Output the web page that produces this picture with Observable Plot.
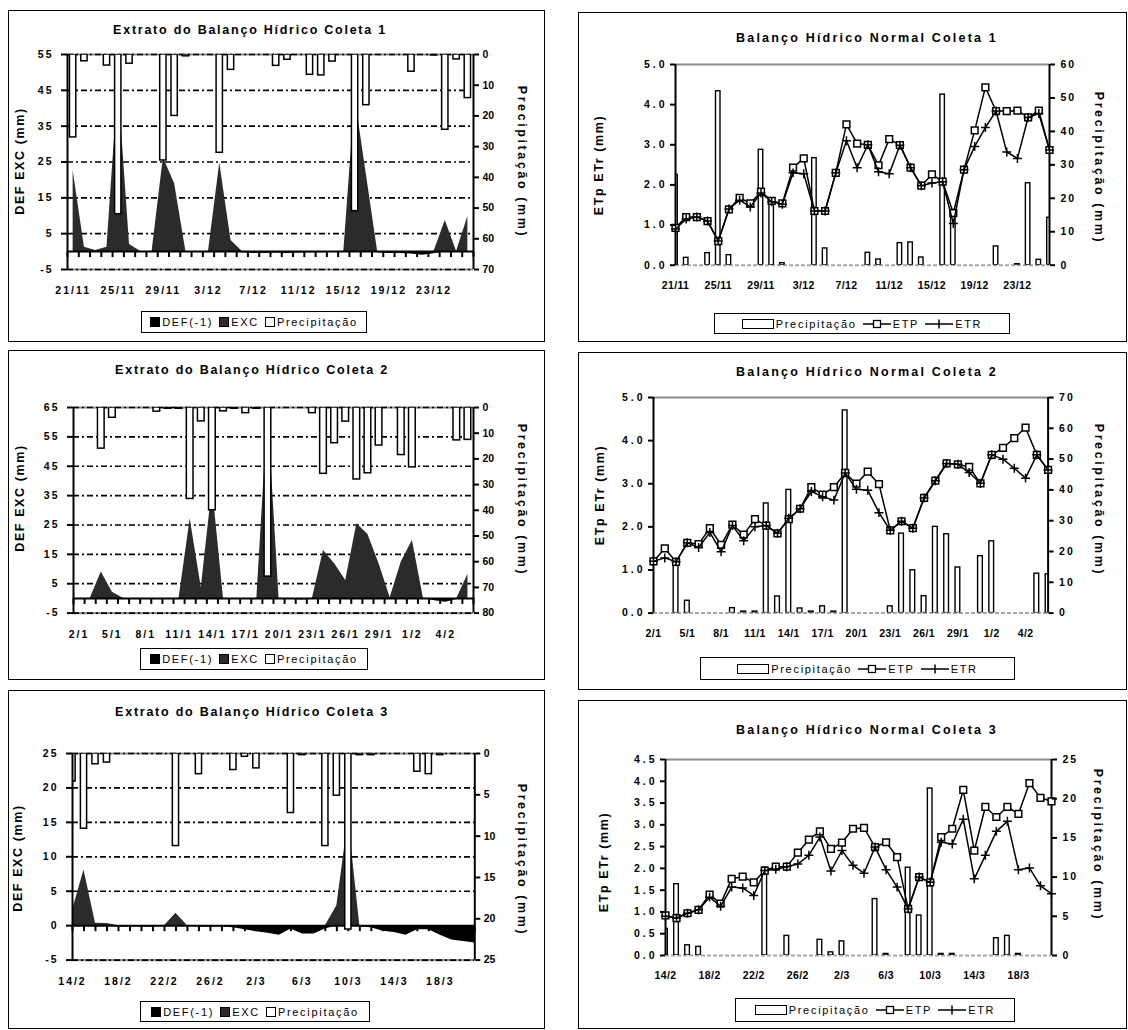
<!DOCTYPE html>
<html>
<head>
<meta charset="utf-8">
<script src="https://cdn.jsdelivr.net/npm/d3@7"></script>
<script src="https://cdn.jsdelivr.net/npm/@observablehq/plot@0.6"></script>
<style>
html,body{margin:0;padding:0;background:#fff;}
#page{position:relative;width:1128px;height:1030px;overflow:hidden;font-family:"Liberation Sans",Arial,sans-serif;color:#000;}
.box{position:absolute;border:1.5px solid #000;box-sizing:border-box;}
.ttl{position:absolute;font-weight:bold;font-size:12.5px;letter-spacing:1.75px;white-space:nowrap;transform:translate(-50%,-50%);}
.ttl.n{letter-spacing:2.2px;}
.yt{position:absolute;font-weight:bold;font-size:12.5px;letter-spacing:1.6px;white-space:nowrap;}
.yt.r{letter-spacing:2.6px;}
.lg{position:absolute;border:1.5px solid #000;box-sizing:border-box;display:flex;align-items:center;justify-content:center;font-size:11px;letter-spacing:1.7px;white-space:nowrap;background:#fff;}
.sw{display:inline-block;width:10px;height:10px;border:1px solid #000;box-sizing:border-box;margin-right:2px;}
.it{display:inline-flex;align-items:center;margin:0 3px;}
</style>
</head>
<body>
<div id="page"></div>
<script>
// ---------------- DATA ----------------
// Coleta 1 (21/11 - 26/12)
const c1Dates = ["21/11","22/11","23/11","24/11","25/11","26/11","27/11","28/11","29/11","30/11",
  "1/12","2/12","3/12","4/12","5/12","6/12","7/12","8/12","9/12","10/12","11/12","12/12","13/12",
  "14/12","15/12","16/12","17/12","18/12","19/12","20/12","21/12","22/12","23/12","24/12","25/12","26/12"];
const c1Precip = [27,2.2,0,3.6,52,3.0,0,0,34.5,20,0.6,0,0,32,5.0,0,0,0,3.7,1.7,0,6.6,6.8,2.3,0,51,16.5,0,0,0,5.6,0,0.3,24.5,1.6,14.2];
const c1Exc = [22.6,1.2,0.3,1.2,47,2.0,0,0,26.2,18.9,0,0,0,24.7,3.1,0,0,0,0,0,0,0,0,0,0,43,21.5,0,0,0,0,0,0,8.7,0,9.8];
const c1Def = [0,0,0,0,0,0,0,0,0,0,0,0,-0.3,0,0,-0.3,-0.5,-0.5,-0.4,-0.5,-0.4,-0.3,-0.3,-0.2,0,0,0,-0.3,-0.5,-0.5,-0.7,-1.0,-0.6,0,0,0];
const c1Etp = [0.93,1.2,1.2,1.1,0.6,1.39,1.68,1.54,1.83,1.6,1.54,2.43,2.66,1.35,1.35,2.3,3.51,3.03,3.0,2.49,3.14,2.99,2.43,1.98,2.26,2.08,1.3,2.38,3.36,4.43,3.84,3.84,3.85,3.68,3.85,2.87];
const c1Etr = [0.9,1.15,1.2,1.1,0.6,1.4,1.62,1.45,1.8,1.58,1.52,2.3,2.28,1.35,1.35,2.3,3.1,2.43,3.0,2.33,2.28,2.99,2.43,1.98,2.05,2.08,1.04,2.38,2.96,3.43,3.84,2.82,2.66,3.68,3.78,2.87];

// Coleta 2 (2/1 - 6/2)
const c2Dates = ["2/1","3/1","4/1","5/1","6/1","7/1","8/1","9/1","10/1","11/1","12/1","13/1","14/1","15/1",
  "16/1","17/1","18/1","19/1","20/1","21/1","22/1","23/1","24/1","25/1","26/1","27/1","28/1","29/1","30/1",
  "31/1","1/2","2/2","3/2","4/2","5/2","6/2"];
const c2Precip = [0,0,16,4,0,0,0,1.6,0.5,0.5,35.6,5.4,40,1.5,0.5,2.2,0.5,65.8,0,0,0,2.2,25.8,13.9,5.5,28,25.6,14.8,0,18.5,23.3,0,0,0,12.8,12.6];
const c2Exc = [0,0,9.0,2.1,0,0,0,0,0,0,27.1,3.6,38,0,0,0,0,64,0,0,0,0,16.3,11.8,6.1,25.4,21.8,11.8,0.2,12.4,19.7,0,0,0,0,8.2];
const c2Def = [0,0,0,0,0,0,0,0,0,0,0,0,0,0,0,0,0,0,0,-0.3,-0.5,-0.3,0,0,0,0,0,0,0,0,0,0,-0.8,-1.3,-0.4,0];
const c2Etp = [1.2,1.5,1.19,1.63,1.6,1.97,1.58,2.05,1.82,2.18,2.03,1.85,2.18,2.42,2.92,2.75,2.92,3.25,3.0,3.28,2.99,1.92,2.13,1.97,2.67,3.07,3.47,3.45,3.39,3.01,3.67,3.83,4.06,4.3,3.67,3.32];
const c2Etr = [1.2,1.28,1.19,1.63,1.52,1.87,1.42,2.03,1.68,2.0,2.03,1.85,2.2,2.42,2.82,2.7,2.62,3.25,2.87,2.85,2.33,1.92,2.13,1.97,2.67,3.07,3.47,3.45,3.26,3.01,3.67,3.57,3.36,3.13,3.67,3.32];

// Coleta 3 (14/2 - 21/3)
const c3Dates = ["14/2","15/2","16/2","17/2","18/2","19/2","20/2","21/2","22/2","23/2","24/2","25/2","26/2",
  "27/2","28/2","1/3","2/3","3/3","4/3","5/3","6/3","7/3","8/3","9/3","10/3","11/3","12/3","13/3","14/3",
  "15/3","16/3","17/3","18/3","19/3","20/3","21/3"];
const c3Precip = [3.4,9.1,1.3,1.1,0,0,0,0,0,11.2,0,2.5,0,0,2.0,0.4,1.8,0,0,7.2,0.2,0,11.2,5.1,21.3,0.2,0.2,0,0,0,2.2,2.5,0.2,0,0,0];
const c3Exc = [2.2,8.1,0.35,0.3,0,0,0,0,0,1.8,0,0,0,0,0,0,0,0,0,0,0,0,0,2.9,15.5,0,0,0,0,0,0,0,0,0,0,0];
const c3Def = [0,0,0,0,-0.2,-0.2,-0.2,-0.2,-0.1,0,-0.1,-0.2,-0.2,-0.2,-0.3,-0.6,-0.9,-1.1,-1.4,-0.5,-1.2,-1.2,-0.5,0,0,-0.2,-0.3,-0.8,-1.0,-1.4,-0.6,-0.6,-1.4,-2.1,-2.3,-2.5];
const c3Etp = [0.92,0.86,0.97,1.05,1.40,1.19,1.76,1.81,1.68,1.95,2.04,2.04,2.36,2.66,2.85,2.45,2.59,2.91,2.93,2.49,2.6,2.26,1.07,1.8,1.68,2.72,2.91,3.80,2.41,3.41,3.18,3.41,3.25,3.96,3.62,3.54];
const c3Etr = [0.9,0.86,0.97,1.05,1.34,1.13,1.57,1.55,1.38,1.95,1.98,2.04,2.1,2.3,2.72,1.94,2.41,2.07,1.89,2.49,1.97,1.57,1.07,1.8,1.68,2.6,2.56,3.13,1.76,2.3,2.85,3.08,1.97,2.01,1.6,1.42];

// axis ticks
const extTicksL1 = [-5,5,15,25,35,45,55];
const extTicksR1 = [0,10,20,30,40,50,60,70];
const extTicksL2 = [-5,5,15,25,35,45,55,65];
const extTicksR2 = [0,10,20,30,40,50,60,70,80];
const extTicksL3 = [-5,0,5,10,15,20,25];
const extTicksR3 = [0,5,10,15,20,25];
const norTicksL12 = [0,1,2,3,4,5];
const norTicksR1 = [0,10,20,30,40,50,60];
const norTicksR2 = [0,10,20,30,40,50,60,70];
const norTicksL3 = [0,0.5,1,1.5,2,2.5,3,3.5,4,4.5];
const norTicksR3 = [0,5,10,15,20,25];

// ---------------- HELPERS ----------------
const page = document.getElementById("page");
function el(tag, cls, css, text) {
  const e = document.createElement(tag);
  if (cls) e.className = cls;
  Object.assign(e.style, css || {});
  if (text != null) e.textContent = text;
  page.appendChild(e);
  return e;
}
function box(x0, y0, x1, y1) {
  el("div", "box", {left: x0 + "px", top: y0 + "px", width: (x1 - x0) + "px", height: (y1 - y0) + "px"});
}
function title(t, cx, cy, cls) { el("div", "ttl" + (cls ? " " + cls : ""), {left: cx + "px", top: cy + "px"}, t); }
function ytitle(t, cx, cy, rot) {
  el("div", "yt" + (rot > 0 ? " r" : ""), {left: cx + "px", top: cy + "px", transform: `translate(-50%,-50%) rotate(${rot}deg)`}, t);
}
function styleSvg(svg, left, top) {
  Object.assign(svg.style, {position: "absolute", left: left + "px", top: top + "px", background: "transparent",
    overflow: "visible", fontFamily: "'Liberation Sans', Arial, sans-serif", fontSize: "10.5px", fontWeight: "bold"});
  page.appendChild(svg);
}
function spacing(svg, label, anchor, ls) {
  svg.querySelectorAll(`g[aria-label="${label}"]`).forEach(g => {
    if (!anchor || g.getAttribute("text-anchor") === anchor) g.style.letterSpacing = ls + "px";
  });
}
function legendExtrato(x0, y0, x1, y1) {
  const L = el("div", "lg", {left: x0 + "px", top: y0 + "px", width: (x1 - x0) + "px", height: (y1 - y0) + "px"});
  L.innerHTML =
    '<span class="it"><span class="sw" style="background:#000"></span>DEF(-1)</span>' +
    '<span class="it"><span class="sw" style="background:#2b2b2b"></span>EXC</span>' +
    '<span class="it"><span class="sw" style="background:#fff"></span>Precipitação</span>';
}
function legendNormal(x0, y0, x1, y1) {
  const L = el("div", "lg", {left: x0 + "px", top: y0 + "px", width: (x1 - x0) + "px", height: (y1 - y0) + "px"});
  L.innerHTML =
    '<span class="it"><span style="display:inline-block;width:32px;height:10px;border:1.2px solid #000;box-sizing:border-box;margin-right:2px"></span>Precipitação</span>' +
    '<span class="it"><svg width="28" height="12" style="margin-right:2px"><line x1="0" y1="6" x2="28" y2="6" stroke="#000" stroke-width="1.5"/><rect x="10.5" y="2.5" width="7" height="7" fill="#fff" stroke="#000" stroke-width="1.3"/></svg>ETP</span>' +
    '<span class="it"><svg width="28" height="12" style="margin-right:2px"><line x1="0" y1="6" x2="28" y2="6" stroke="#000" stroke-width="1.5"/><line x1="14" y1="1.5" x2="14" y2="10.5" stroke="#000" stroke-width="1.5"/></svg>ETR</span>';
}
const plain = d => String(d);

// ---------------- EXTRATO PANEL ----------------
function extrato(cfg) {
  const {pl, pr, pt, pb, dates, precip, exc, def, lDom, lTicks, rMax, rTicks, between, every, hb} = cfg;
  const N = dates.length;
  const [lBot, lTop] = lDom;
  const toL = p => lTop - p * (lTop - lBot) / rMax;
  const fromL = v => (lTop - v) * rMax / (lTop - lBot);
  const xDom = between ? [-0.5, N - 0.5] : [0, N - 1];
  const upp = (lTop - lBot) / (pb - pt);
  const rows = d3.range(N).map(i => ({i, p: precip[i], exc: exc[i], def: def[i]}));
  const dayTicks = between ? d3.range(N + 1).map(i => i - 0.5) : d3.range(N);
  const labelIdx = d3.range(0, N, every);
  const grid = lTicks.filter(v => v !== 0);
  const mL = 60, mR = 50, mT = 12, mB = 40;
  const svg = Plot.plot({
    width: mL + (pr - pl) + mR, height: mT + (pb - pt) + mB,
    marginLeft: mL, marginRight: mR, marginTop: mT, marginBottom: mB,
    x: {domain: xDom, label: null},
    y: {domain: [lBot, lTop], label: null},
    marks: [
      Plot.ruleY([lBot, lTop], {stroke: "#8c8c8c", strokeWidth: 2.2}),
      Plot.ruleY(grid, {stroke: "#000", strokeWidth: 1.7, strokeDasharray: "6,3,2,3"}),
      Plot.area(rows, {x1: "i", y1: 0, y2: "exc", fill: "#2b2b2b", curve: "linear"}),
      Plot.area(rows, {x1: "i", y1: 0, y2: "def", fill: "#000", curve: "linear"}),
      Plot.ruleY([0], {stroke: "#000", strokeWidth: 2}),
      Plot.ruleX(dayTicks, {y1: 0, y2: -6 * upp, stroke: "#000", strokeWidth: 2}),
      Plot.rect(rows.filter(d => d.p > 0), {x1: d => d.i - hb, x2: d => d.i + hb, y1: lTop, y2: d => toL(d.p),
        fill: "#fff", stroke: "#000", strokeWidth: 1.5, clip: true}),
      Plot.ruleX([xDom[0]], {stroke: "#000", strokeWidth: 2}),
      Plot.ruleX([xDom[1]], {stroke: "#000", strokeWidth: 2}),
      Plot.axisY(lTicks, {anchor: "left", tickSize: 6, tickPadding: 8, strokeWidth: 2, label: null, tickFormat: plain}),
      Plot.axisY(rTicks.map(toL), {anchor: "right", tickSize: 5, tickPadding: 4, strokeWidth: 2, label: null,
        tickFormat: v => String(Math.round(fromL(v)))}),
      Plot.axisX(labelIdx, {anchor: "bottom", tickSize: 0, tickPadding: 17, label: null, tickFormat: i => dates[i]})
    ]
  });
  styleSvg(svg, pl - mL, pt - mT);
  spacing(svg, "y-axis tick label", "end", 2);
  spacing(svg, "x-axis tick label", null, 2);
}

// ---------------- NORMAL PANEL ----------------
function normal(cfg) {
  const {pl, pr, pt, pb, dates, precip, etp, etr, lMax, lTicks, lFmt, rMax, rTicks, every, hb} = cfg;
  const N = dates.length;
  const toL = p => p * lMax / rMax;
  const fromL = v => v * rMax / lMax;
  const rows = d3.range(N).map(i => ({i, p: precip[i], etp: etp[i], etr: etr[i]}));
  const labelIdx = d3.range(0, N, every);
  const mL = 60, mR = 50, mT = 12, mB = 40;
  const svg = Plot.plot({
    width: mL + (pr - pl) + mR, height: mT + (pb - pt) + mB,
    marginLeft: mL, marginRight: mR, marginTop: mT, marginBottom: mB,
    x: {domain: [0, N - 1], label: null},
    y: {domain: [0, lMax], label: null},
    marks: [
      Plot.ruleY([lMax], {stroke: "#8c8c8c", strokeWidth: 2.2}),
      Plot.ruleY([0], {stroke: "#a8a8a8", strokeWidth: 2, strokeDasharray: "4,2"}),
      Plot.rect(rows.filter(d => d.p > 0), {x1: d => d.i - hb, x2: d => d.i + hb, y1: 0, y2: d => toL(d.p),
        fill: "#fff", stroke: "#000", strokeWidth: 1.4, clip: true}),
      Plot.ruleX([0], {stroke: "#000", strokeWidth: 2}),
      Plot.ruleX([N - 1], {stroke: "#000", strokeWidth: 2}),
      Plot.line(rows, {x: "i", y: "etp", stroke: "#000", strokeWidth: 1.5}),
      Plot.dot(rows, {x: "i", y: "etp", symbol: "square", r: 3.8, fill: "#fff", stroke: "#000", strokeWidth: 1.5}),
      Plot.line(rows, {x: "i", y: "etr", stroke: "#000", strokeWidth: 1.5}),
      Plot.dot(rows, {x: "i", y: "etr", symbol: "plus", r: 3, stroke: "#000", strokeWidth: 1.5}),
      Plot.axisY(lTicks, {anchor: "left", tickSize: 5, tickPadding: 3, strokeWidth: 2, label: null, tickFormat: lFmt}),
      Plot.axisY(rTicks.map(toL), {anchor: "right", tickSize: 5, tickPadding: 6, strokeWidth: 2, label: null,
        tickFormat: v => String(Math.round(fromL(v)))}),
      Plot.axisX(labelIdx, {anchor: "bottom", tickSize: 0, tickPadding: 16, label: null, tickFormat: i => dates[i]})
    ]
  });
  styleSvg(svg, pl - mL, pt - mT);
  spacing(svg, "y-axis tick label", "end", 3);
  spacing(svg, "y-axis tick label", "start", 2);
  spacing(svg, "x-axis tick label", null, 0.4);
}

// ---------------- PANELS ----------------
// Panel A: Extrato Coleta 1
box(8, 10, 545, 342);
title("Extrato do Balanço Hídrico Coleta 1", 250, 30);
ytitle("DEF EXC (mm)", 20, 161, -90);
ytitle("Precipitação (mm)", 522, 162, 90);
extrato({pl: 67, pr: 473, pt: 54, pb: 269, dates: c1Dates, precip: c1Precip, exc: c1Exc, def: c1Def,
  lDom: [-5, 55], lTicks: extTicksL1, rMax: 70, rTicks: extTicksR1, between: true, every: 4, hb: 0.28});
legendExtrato(141, 311, 367, 333);

// Panel B: Normal Coleta 1
box(578, 12, 1127, 342);
title("Balanço Hídrico Normal Coleta 1", 867, 38, "n");
ytitle("ETp ETr (mm)", 599, 165, -90);
ytitle("Precipitação (mm)", 1099, 168, 90);
normal({pl: 675, pr: 1049, pt: 64.3, pb: 265, dates: c1Dates, precip: c1Precip, etp: c1Etp, etr: c1Etr,
  lMax: 5, lTicks: norTicksL12, lFmt: d3.format(".1f"), rMax: 60, rTicks: norTicksR1, every: 4, hb: 0.21});
legendNormal(714, 313, 1010, 334);

// Panel C: Extrato Coleta 2
box(8, 350, 545, 680);
title("Extrato do Balanço Hídrico Coleta 2", 252, 370);
ytitle("DEF EXC (mm)", 20, 498, -90);
ytitle("Precipitação (mm)", 522, 500, 90);
extrato({pl: 72.7, pr: 472.7, pt: 406.7, pb: 612.3, dates: c2Dates, precip: c2Precip, exc: c2Exc, def: c2Def,
  lDom: [-5, 65], lTicks: extTicksL2, rMax: 80, rTicks: extTicksR2, between: true, every: 3, hb: 0.3});
legendExtrato(140, 648, 368, 670);

// Panel D: Normal Coleta 2
box(578, 352, 1127, 690);
title("Balanço Hídrico Normal Coleta 2", 867, 372, "n");
ytitle("ETp ETr (mm)", 600, 495, -90);
ytitle("Precipitação (mm)", 1099, 500, 90);
normal({pl: 652.7, pr: 1047.3, pt: 396.7, pb: 612.3, dates: c2Dates, precip: c2Precip, etp: c2Etp, etr: c2Etr,
  lMax: 5, lTicks: norTicksL12, lFmt: d3.format(".1f"), rMax: 70, rTicks: norTicksR2, every: 3, hb: 0.21});
legendNormal(700, 657, 1015, 680);

// Panel E: Extrato Coleta 3
box(8, 690, 545, 1029);
title("Extrato do Balanço Hídrico Coleta 3", 252, 712);
ytitle("DEF EXC (mm)", 18, 858, -90);
ytitle("Precipitação (mm)", 522, 860, 90);
extrato({pl: 71.7, pr: 474, pt: 752.7, pb: 959.3, dates: c3Dates, precip: c3Precip, exc: c3Exc, def: c3Def,
  lDom: [-5, 25], lTicks: extTicksL3, rMax: 25, rTicks: extTicksR3, between: false, every: 4, hb: 0.27});
legendExtrato(140, 1001, 370, 1022);

// Panel F: Normal Coleta 3
box(578, 700, 1127, 1029);
title("Balanço Hídrico Normal Coleta 3", 867, 730, "n");
ytitle("ETp ETr (mm)", 604, 862, -90);
ytitle("Precipitação (mm)", 1098, 845, 90);
normal({pl: 665, pr: 1051, pt: 759, pb: 955, dates: c3Dates, precip: c3Precip, etp: c3Etp, etr: c3Etr,
  lMax: 4.5, lTicks: norTicksL3, lFmt: d3.format(".1f"), rMax: 25, rTicks: norTicksR3, every: 4, hb: 0.21});
legendNormal(735, 998, 1015, 1022);
</script>
</body>
</html>
